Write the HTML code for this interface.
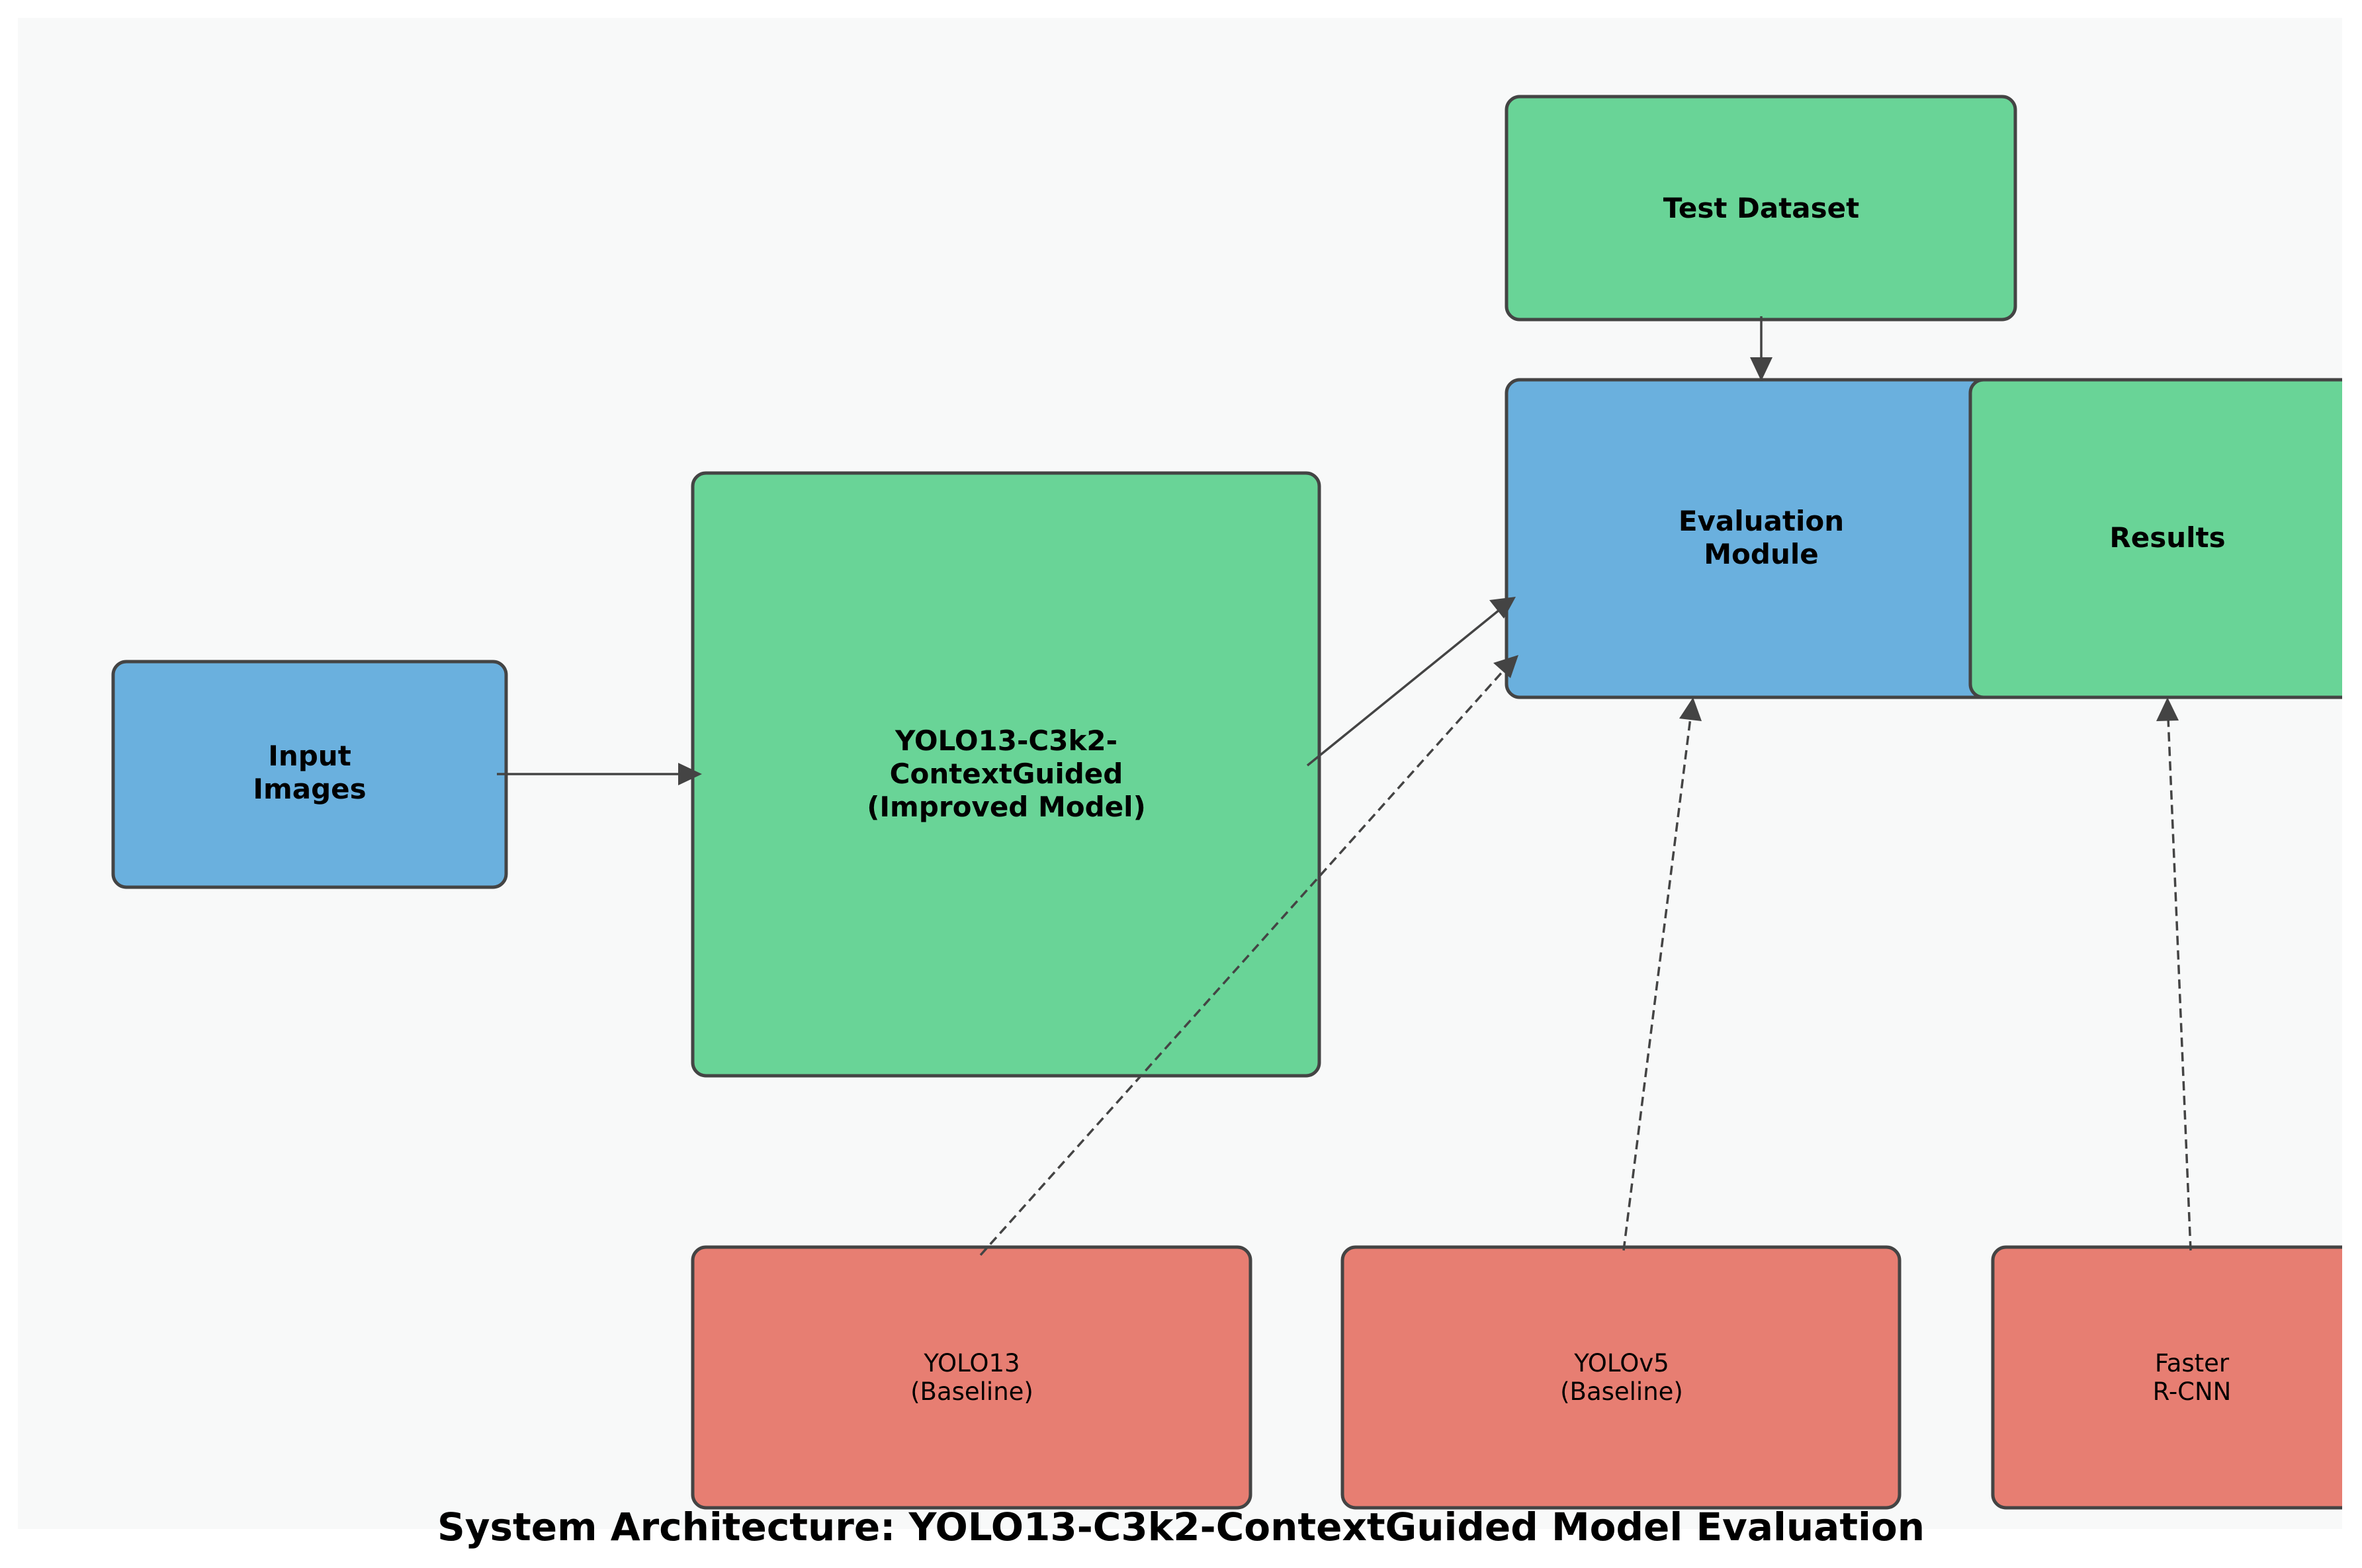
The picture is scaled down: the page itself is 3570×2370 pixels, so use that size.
<!DOCTYPE html>
<html><head><meta charset="utf-8"><style>
html,body{margin:0;padding:0;background:#fff}
svg{display:block}
text{font-family:"DejaVu Sans","Liberation Sans",sans-serif;fill:#000;text-anchor:middle}
.b{font-weight:bold;font-size:42px}
.r{font-size:37px}
</style></head><body>
<svg width="3570" height="2370" viewBox="0 0 3570 2370" xmlns="http://www.w3.org/2000/svg">
<defs>
<clipPath id="c"><rect x="27" y="27" width="3513" height="2284"/></clipPath>
</defs>
<rect x="27" y="27" width="3513" height="2284" fill="#f8f9f9"/>
<g clip-path="url(#c)" stroke="#444" stroke-width="5">
<rect x="2277" y="146" width="769" height="337" rx="20" fill="#69d497"/>
<rect x="2277" y="574" width="769" height="480" rx="20" fill="#6ab0de"/>
<rect x="2978" y="574" width="598" height="480" rx="20" fill="#69d497"/>
<rect x="171" y="1000" width="594" height="341" rx="20" fill="#6ab0de"/>
<rect x="1047" y="715" width="947" height="911" rx="20" fill="#69d497"/>
<rect x="1047" y="1885" width="843" height="394" rx="20" fill="#e77e72"/>
<rect x="2029" y="1885" width="842" height="394" rx="20" fill="#e77e72"/>
<rect x="3012" y="1885" width="842" height="394" rx="20" fill="#e77e72"/>
</g>
<g stroke="#444" stroke-width="3.5" fill="none">
<line x1="751" y1="1170" x2="1030" y2="1170"/>
<line x1="1976" y1="1157" x2="2266" y2="922"/>
<line x1="2662" y1="478" x2="2662" y2="545"/>
<line x1="1482" y1="1897" x2="2272" y2="1014" stroke-dasharray="14,8"/>
<line x1="2454" y1="1890" x2="2555" y2="1085" stroke-dasharray="14,8"/>
<line x1="3311" y1="1890" x2="3277" y2="1085" stroke-dasharray="14,8"/>
</g>
<g fill="#444">
<polygon points="1061,1170 1025,1153 1025,1187"/>
<polygon points="2291,902 2273,935 2251,907"/>
<polygon points="2662,576 2645,540 2679,540"/>
<polygon points="2295,990 2283,1025 2257,1002"/>
<polygon points="2559,1054 2572,1090 2538,1086"/>
<polygon points="3276,1054 3293,1089 3259,1090"/>
</g>
<text class="b" x="2662" y="329">Test Dataset</text>
<text class="b" x="2662" y="802">Evaluation</text>
<text class="b" x="2662" y="852">Module</text>
<text class="b" x="3276" y="827">Results</text>
<text class="b" x="468" y="1157">Input</text>
<text class="b" x="468" y="1207">Images</text>
<text class="b" x="1521" y="1134">YOLO13-C3k2-</text>
<text class="b" x="1521" y="1184">ContextGuided</text>
<text class="b" x="1521" y="1234">(Improved Model)</text>
<text class="r" x="1469" y="2073">YOLO13</text>
<text class="r" x="1469" y="2116">(Baseline)</text>
<text class="r" x="2451" y="2073">YOLOv5</text>
<text class="r" x="2451" y="2116">(Baseline)</text>
<text class="r" x="3313" y="2073">Faster</text>
<text class="r" x="3313" y="2116">R-CNN</text>
<text x="1785" y="2328" style="font-weight:bold;font-size:58px">System Architecture: YOLO13-C3k2-ContextGuided Model Evaluation</text>
</svg>
</body></html>
